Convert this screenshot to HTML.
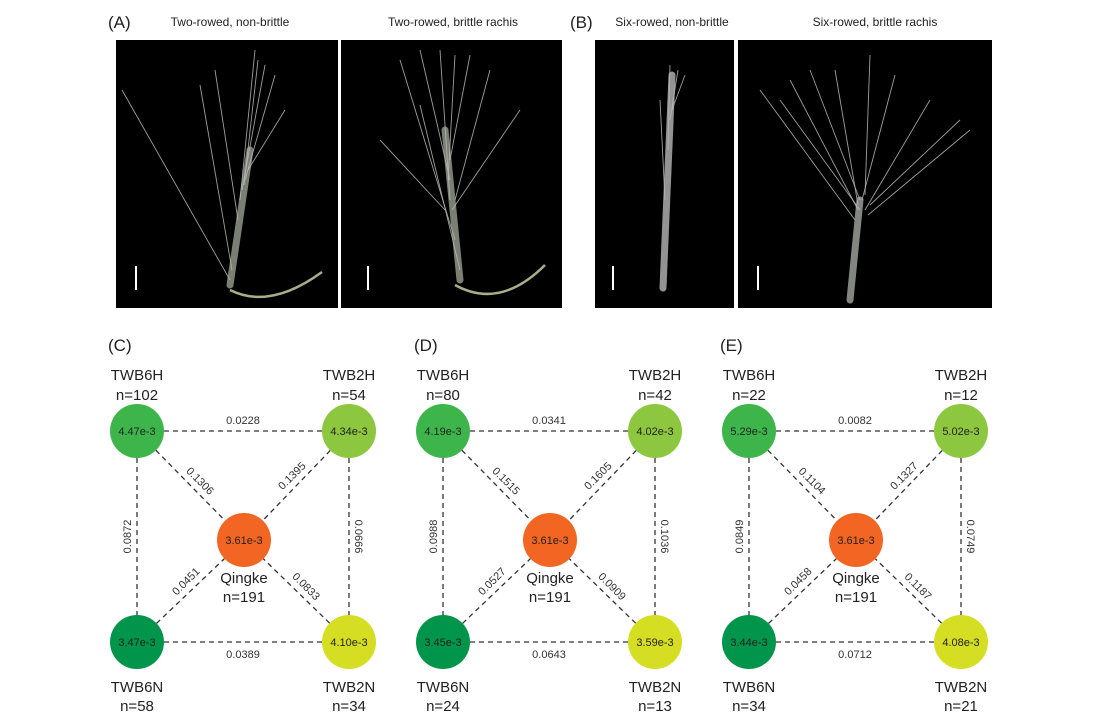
<!DOCTYPE html>
<html><head><meta charset="utf-8">
<style>
html,body{margin:0;padding:0;background:#fff;}
svg{display:block;font-family:"Liberation Sans",Arial,sans-serif;}
</style></head>
<body>
<svg id="fig" width="1099" height="717" viewBox="0 0 1099 717" xmlns="http://www.w3.org/2000/svg">
  <g>
    <text x="108" y="28" font-size="17" fill="#222">(A)</text>
    <text x="230" y="26" font-size="12" fill="#222" text-anchor="middle">Two-rowed, non-brittle</text>
    <text x="453" y="26" font-size="12" fill="#222" text-anchor="middle">Two-rowed, brittle rachis</text>
    <rect x="116" y="40" width="222" height="268" fill="#000"/>
    <rect x="341" y="40" width="221" height="268" fill="#000"/>
  </g>
  <g>
    <text x="570" y="28" font-size="17" fill="#222">(B)</text>
    <text x="672" y="26" font-size="12" fill="#222" text-anchor="middle">Six-rowed, non-brittle</text>
    <text x="875" y="26" font-size="12" fill="#222" text-anchor="middle">Six-rowed, brittle rachis</text>
    <rect x="595" y="40" width="139" height="268" fill="#000"/>
    <rect x="738" y="40" width="254" height="268" fill="#000"/>
  </g>
  <g id="spikes"></g>
  <g id="nets"></g>
</svg>
<script>
// Network data (panels C, D, E)
const panelLabels = ["(C)", "(D)", "(E)"];
const nodeNames = ["TWB6H", "TWB2H", "TWB6N", "TWB2N", "Qingke"];
const nodeN_C = [102, 54, 58, 34, 191];
const nodeN_D = [80, 42, 24, 13, 191];
const nodeN_E = [22, 12, 34, 21, 191];
const nodeVal_C = ["4.47e-3", "4.34e-3", "3.47e-3", "4.10e-3", "3.61e-3"];
const nodeVal_D = ["4.19e-3", "4.02e-3", "3.45e-3", "3.59e-3", "3.61e-3"];
const nodeVal_E = ["5.29e-3", "5.02e-3", "3.44e-3", "4.08e-3", "3.61e-3"];
// edges: top, bottom, left, right, TL-Q, TR-Q, BL-Q, BR-Q
const edgeVal_C = ["0.0228", "0.0389", "0.0872", "0.0666", "0.1306", "0.1395", "0.0451", "0.0833"];
const edgeVal_D = ["0.0341", "0.0643", "0.0988", "0.1036", "0.1515", "0.1605", "0.0527", "0.0909"];
const edgeVal_E = ["0.0082", "0.0712", "0.0849", "0.0749", "0.1104", "0.1327", "0.0458", "0.1187"];

const NS = "http://www.w3.org/2000/svg";
function mk(tag, attrs, parent){
  const e = document.createElementNS(NS, tag);
  for (const k in attrs) e.setAttribute(k, attrs[k]);
  parent.appendChild(e); return e;
}
const colors = ["#3db54a", "#8dc63f", "#00954a", "#d6de23", "#f26522"];
const nets = document.getElementById("nets");
const panels = [[nodeN_C, nodeVal_C, edgeVal_C],[nodeN_D, nodeVal_D, edgeVal_D],[nodeN_E, nodeVal_E, edgeVal_E]];
const R = 27;
panels.forEach((p, i) => {
  const ox = 306 * i;
  const g = mk("g", {}, nets);
  
  
  const pl = mk("text", {x: 108 + ox, y: 351, "font-size": 17, fill: "#222"}, g);
  pl.textContent = panelLabels[i];
  
  
  const pos = [[137+ox,431],[349+ox,431],[137+ox,642],[349+ox,642],[244+ox,540]];
  const edges = [[0,1],[2,3],[0,2],[1,3],[0,4],[1,4],[2,4],[3,4]];
  edges.forEach((e, k) => {
    const a = pos[e[0]], b = pos[e[1]];
    const dx = b[0]-a[0], dy = b[1]-a[1], L = Math.hypot(dx, dy);
    const ux = dx/L, uy = dy/L;
    const ln = mk("line", {x1: a[0]+ux*R, y1: a[1]+uy*R, x2: b[0]-ux*R, y2: b[1]-uy*R, stroke: "#333", "stroke-width": 1.3, "stroke-dasharray": "5,4"}, g);
    
    
    const mx = (a[0]+b[0])/2, my = (a[1]+b[1])/2;
    let tx, ty, rot;
    if (k === 0) { tx = mx; ty = my - 7; rot = 0; }
    else if (k === 1) { tx = mx; ty = my + 16; rot = 0; }
    else if (k === 2) { tx = mx - 6; ty = my; rot = -90; }
    else if (k === 3) { tx = mx + 6; ty = my; rot = 90; }
    else if (k === 4) { tx = mx + 7; ty = my - 2; rot = 45; }
    else if (k === 5) { tx = mx - 2; ty = my - 7; rot = -45; }
    else if (k === 6) { tx = mx - 2; ty = my - 7; rot = -45; }
    else { tx = mx + 7; ty = my - 2; rot = 45; }
    const t = mk("text", {x: tx, y: ty, "font-size": 11, fill: "#333", "text-anchor": "middle", transform: `rotate(${rot} ${tx} ${ty})`}, g);
    t.textContent = p[2][k];
    
    
  });
  pos.forEach((c, j) => {
    const ci = mk("circle", {cx: c[0], cy: c[1], r: R, fill: colors[j]}, g);
    
    
    const v = mk("text", {x: c[0], y: c[1] + 4, "font-size": 11, fill: "#222", "text-anchor": "middle"}, g);
    v.textContent = p[1][j];
    
    
    let y1, y2;
    if (j < 2) { y1 = c[1] - 51; y2 = c[1] - 31; }
    else if (j < 4) { y1 = c[1] + 50; y2 = c[1] + 69; }
    else { y1 = c[1] + 43; y2 = c[1] + 62; }
    const n1 = mk("text", {x: c[0], y: y1, "font-size": 15, fill: "#222", "text-anchor": "middle"}, g);
    n1.textContent = nodeNames[j];
    
    
    const n2 = mk("text", {x: c[0], y: y2, "font-size": 15, fill: "#222", "text-anchor": "middle"}, g);
    n2.textContent = "n=" + p[0][j];
    
    
  });
});

// simple spike sketches
const sp = document.getElementById("spikes");
function spike(base, top, awns, color){
  const g = mk("g", {}, sp);
  
  
  mk("path", {d: `M${base[0]} ${base[1]} L${top[0]} ${top[1]}`, stroke: color, "stroke-width": 7, "stroke-linecap": "round", opacity: 0.8}, g);
  awns.forEach(a => mk("line", {x1: a[0], y1: a[1], x2: a[2], y2: a[3], stroke: "#bbb", "stroke-width": 0.9, opacity: 0.85}, g));
}
spike([230,285],[250,150],[[230,280,122,90],[232,270,200,85],[240,200,255,50],[242,190,265,65],[245,180,275,75],[248,170,285,110],[238,220,215,70],[244,185,258,60]],"#9a9e90");
mk("path",{d:"M230 290 Q270 310 322 272",stroke:"#a9ad88","stroke-width":2.5,fill:"none"},sp);
spike([460,280],[445,130],[[460,270,420,105],[455,240,400,60],[450,200,440,50],[448,180,455,55],[455,200,490,70],[450,160,470,55],[445,210,380,140],[452,210,520,110],[450,180,420,50]],"#9a9e90");
mk("path",{d:"M455 285 Q500 310 545 265",stroke:"#a9ad88","stroke-width":2.5,fill:"none"},sp);
spike([663,288],[672,75],[[665,200,660,100],[668,150,670,65],[670,120,678,70],[672,110,685,75]],"#b8b8b8");
spike([850,300],[860,200],[[855,220,760,90],[858,210,790,80],[860,200,810,70],[865,195,870,55],[862,200,895,75],[865,210,930,100],[868,215,970,130],[860,210,780,100],[870,205,960,120],[858,205,835,70]],"#a4a8a0");
// scale bars
[[136,266,290],[368,266,290],[613,266,290],[758,266,290]].forEach(b=>{
  const l=mk("line",{x1:b[0],y1:b[1],x2:b[0],y2:b[2],stroke:"#fff","stroke-width":2},sp);
  
  
});
</script>
</body></html>
